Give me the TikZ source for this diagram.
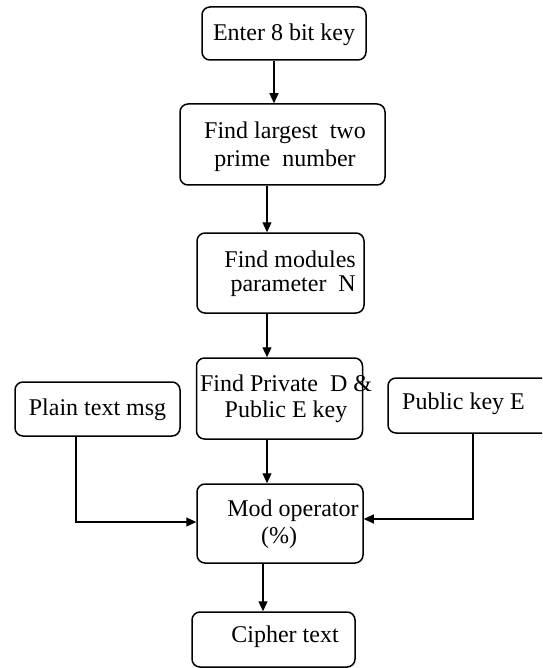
\documentclass[tikz,border=0pt]{standalone}
\usepackage{fontspec}
\setmainfont{Liberation Serif}
\usetikzlibrary{arrows.meta}
\tikzset{
  box/.style={draw, line width=1.5pt, rounded corners=8pt, inner sep=0pt, anchor=center},
  lbl/.style={inner sep=0pt, align=center, font=\fontsize{24}{26}\selectfont},
  arr/.style={line width=1.2pt, -{Triangle[length=10pt,width=9pt]}},
  conn/.style={line width=1.2pt}
}
\begin{document}
\begin{tikzpicture}[x=1pt,y=-1pt]
\useasboundingbox (0,0) rectangle (542,668);
\fill[white] (0,0) rectangle (542,668);
\clip (0,0) rectangle (542,668);
% boxes
\node[box, minimum width=164pt, minimum height=53pt] (b1) at (284,33.5) {};
\node[box, minimum width=205pt, minimum height=81pt] (b2) at (282.5,144.5) {};
\node[box, minimum width=167pt, minimum height=80pt] (b3) at (280.5,273) {};
\node[box, minimum width=166pt, minimum height=81pt] (b4) at (279.5,398.5) {};
\node[box, minimum width=165pt, minimum height=54pt] (bp) at (97.5,409) {};
\node[box, minimum width=172pt, minimum height=55pt] (bk) at (474,405.5) {};
\node[box, minimum width=166pt, minimum height=79pt] (b5) at (280,523.5) {};
\node[box, minimum width=163pt, minimum height=55pt] (b6) at (273.5,639.5) {};
% texts
\node[lbl] (t1) at (284,35) {Enter 8 bit key};
\node[lbl, font=\fontsize{24}{28}\selectfont] (t2) at (285,147) {Find largest\ \ two\\prime\ \ number};
\node[lbl, align=right, anchor=east, font=\fontsize{24}{24}\selectfont] (t3) at (356,274) {Find modules\\parameter\ \ N};
\node[lbl] (t4) at (286,399) {Find Private\ \ D \&\\Public E key};
\node[lbl] (tp) at (97.5,410) {Plain text msg};
\node[lbl] (tk) at (463.5,404) {Public key E};
\node[lbl] (t5a) at (293,511) {Mod operator};
\node[lbl] (t5b) at (279,538) {(\%)};
\node[lbl] (t6) at (285,637) {Cipher text};
% connector guides
\coordinate (c1) at (274,0);
\coordinate (c2) at (267,0);
\coordinate (c3) at (263,0);
\coordinate (cp) at (76,522);
\coordinate (ck) at (473,519);
% connectors
\draw[arr] (b1.south -| c1) -- (b2.north -| c1);
\draw[arr] (b2.south -| c2) -- (b3.north -| c2);
\draw[arr] (b3.south -| c2) -- (b4.north -| c2);
\draw[arr] (b4.south -| c2) -- (b5.north -| c2);
\draw[arr] (b5.south -| c3) -- (b6.north -| c3);
\draw[arr] (bp.south -| cp) -- (cp) -- (b5.west |- cp);
\draw[arr] (bk.south -| ck) -- (ck) -- (b5.east |- ck);
\end{tikzpicture}
\end{document}
